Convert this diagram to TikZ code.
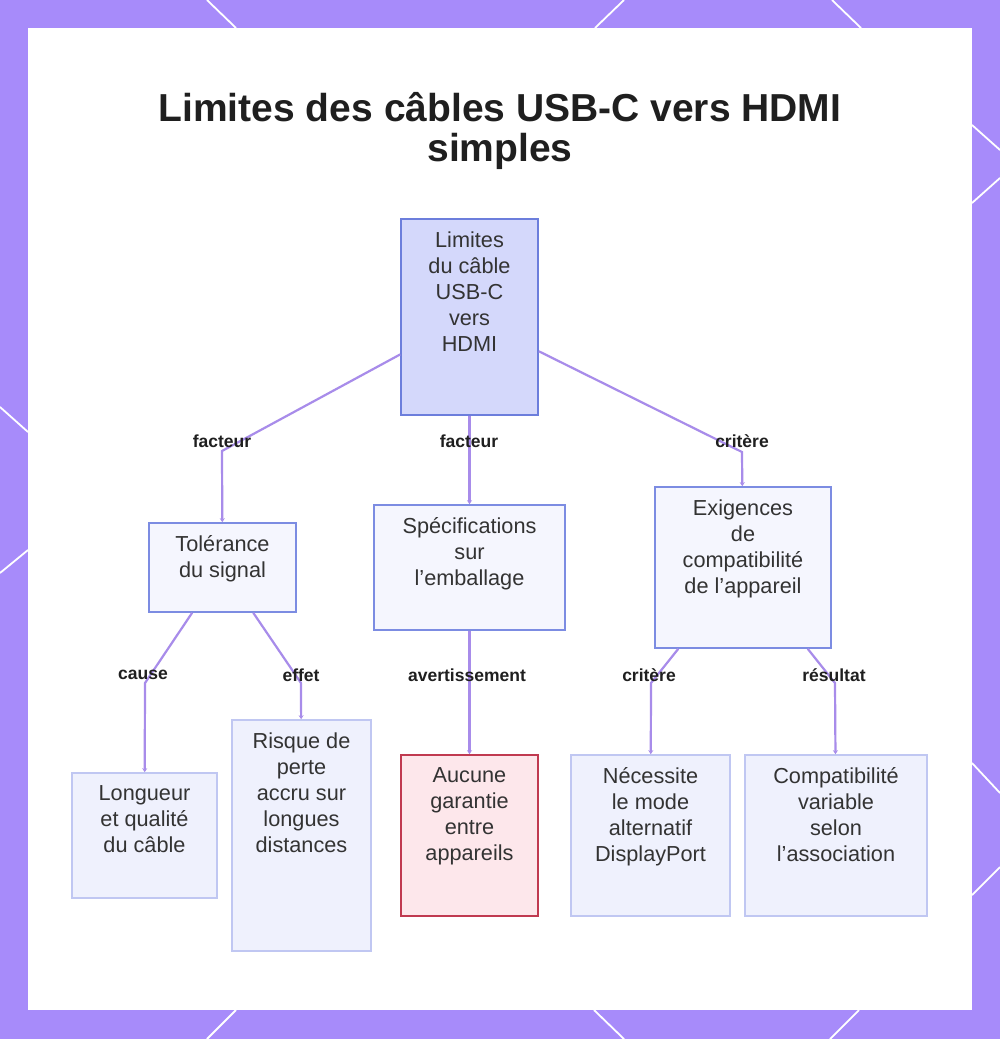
\documentclass[tikz,border=0pt]{standalone}
\usepackage{fontspec}
\setmainfont{Liberation Sans}
\usetikzlibrary{positioning,arrows.meta}

\definecolor{violetfond}{RGB}{167,139,250}
\definecolor{lienviolet}{RGB}{168,140,234}
\definecolor{racinefond}{RGB}{212,216,251}
\definecolor{racinebord}{RGB}{108,126,220}
\definecolor{niveaufond}{RGB}{245,246,254}
\definecolor{niveaubord}{RGB}{124,140,226}
\definecolor{feuillefond}{RGB}{239,241,253}
\definecolor{feuillebord}{RGB}{192,199,242}
\definecolor{alertefond}{RGB}{253,231,235}
\definecolor{alertebord}{RGB}{192,58,80}
\definecolor{gristexte}{RGB}{51,51,51}

\tikzset{
  boite/.style={draw, line width=1.6pt, inner sep=0pt},
  racinebox/.style={boite, draw=racinebord, fill=racinefond},
  niveaubox/.style={boite, draw=niveaubord, fill=niveaufond},
  feuillebox/.style={boite, draw=feuillebord, fill=feuillefond},
  alertebox/.style={boite, draw=alertebord, fill=alertefond},
  libelle/.style={align=center, inner sep=0pt, text=gristexte, font=\fontsize{21.7}{26}\selectfont},
  etiquette/.style={inner sep=0pt, text=black!88, font=\bfseries\fontsize{17.5}{20}\selectfont},
  lien/.style={draw=lienviolet, line width=2.2pt, -{Stealth[length=4pt,width=5pt]}},
  deco/.style={white, line width=1.8pt}
}

\begin{document}
\begin{tikzpicture}[x=1pt, y=-1pt]
\useasboundingbox (0,0) rectangle (1000,1039);

% cadre
\fill[violetfond] (0,0) rectangle (1000,1039);
\fill[white] (28,28) rectangle (972,1010);
\draw[deco] (207,0) -- (236,28);
\draw[deco] (624,0) -- (595,28);
\draw[deco] (832,0) -- (861,28);
\draw[deco] (236,1010) -- (207,1039);
\draw[deco] (594,1010) -- (624,1039);
\draw[deco] (859,1010) -- (830,1039);
\draw[deco] (0,407) -- (28,432);
\draw[deco] (0,573) -- (28,550);
\draw[deco] (972,125) -- (1000,150);
\draw[deco] (972,203) -- (1000,178);
\draw[deco] (972,763) -- (1000,793);
\draw[deco] (1000,867) -- (972,895);

\node[anchor=north, align=center, inner sep=0pt, text=black!88, font=\bfseries\fontsize{39}{40}\selectfont] (titre) at (500,92) {Limites des câbles USB-C vers HDMI\\simples};

% boites
\node[racinebox, minimum width=137pt, minimum height=196pt] (racine) at (469.5,317) {};
\node[niveaubox, minimum width=147pt, minimum height=89pt] (tolerance) at (222.5,567.5) {};
\node[niveaubox, minimum width=191pt, minimum height=125pt] (specs) at (469.5,567.5) {};
\node[niveaubox, minimum width=176pt, minimum height=161pt] (exigences) at (743,567.5) {};
\node[feuillebox, minimum width=145pt, minimum height=125pt] (longueur) at (144.5,835.5) {};
\node[feuillebox, minimum width=139pt, minimum height=231pt] (risque) at (301.5,835.5) {};
\node[alertebox, minimum width=137pt, minimum height=161pt] (aucune) at (469.5,835.5) {};
\node[feuillebox, minimum width=159pt, minimum height=161pt] (altmode) at (650.5,835.5) {};
\node[feuillebox, minimum width=182pt, minimum height=161pt] (compat) at (836,835.5) {};

\node[libelle, below=13.5pt of racine.north] (racinet) {Limites\\du câble\\USB-C\\vers\\HDMI};
\node[libelle, below=13.5pt of tolerance.north] (tolerancet) {Tolérance\\du signal};
\node[libelle, below=13.5pt of specs.north] (specst) {Spécifications\\sur\\l’emballage};
\node[libelle, below=13.5pt of exigences.north] (exigencest) {Exigences\\de\\compatibilité\\de l’appareil};
\node[libelle, below=13.5pt of longueur.north] (longueurt) {Longueur\\et qualité\\du câble};
\node[libelle, below=13.5pt of risque.north] (risquet) {Risque de\\perte\\accru sur\\longues\\distances};
\node[libelle, below=13.5pt of aucune.north] (aucunet) {Aucune\\garantie\\entre\\appareils};
\node[libelle, below=13.5pt of altmode.north] (altmodet) {Nécessite\\le mode\\alternatif\\DisplayPort};
\node[libelle, below=13.5pt of compat.north] (compatt) {Compatibilité\\variable\\selon\\l’association};

% liens
\coordinate (c1) at (222,451);
\coordinate (c3) at (742,452);
\coordinate (c4) at (145,683);
\coordinate (c5) at (301,683);
\coordinate (c7) at (651,683);
\coordinate (c8) at (835,683);

\draw[lien] (racine) -- (c1) -- (tolerance);
\draw[lien] (racine) -- (specs);
\draw[lien] (racine) -- (c3) -- (exigences);
\draw[lien] (tolerance) -- (c4) -- (longueur);
\draw[lien] (tolerance) -- (c5) -- (risque);
\draw[lien] (specs) -- (aucune);
\draw[lien] (exigences) -- (c7) -- (altmode);
\draw[lien] (exigences) -- (c8) -- (compat);

\node[etiquette] (e1) at (222,441) {facteur};
\node[etiquette] (e2) at (469,441) {facteur};
\node[etiquette] (e3) at (742,441) {critère};
\node[etiquette] (e4) at (143,675) {cause};
\node[etiquette] (e5) at (301,675) {effet};
\node[etiquette] (e6) at (467,675) {avertissement};
\node[etiquette] (e7) at (649,675) {critère};
\node[etiquette] (e8) at (834,675) {résultat};
\end{tikzpicture}
\end{document}
